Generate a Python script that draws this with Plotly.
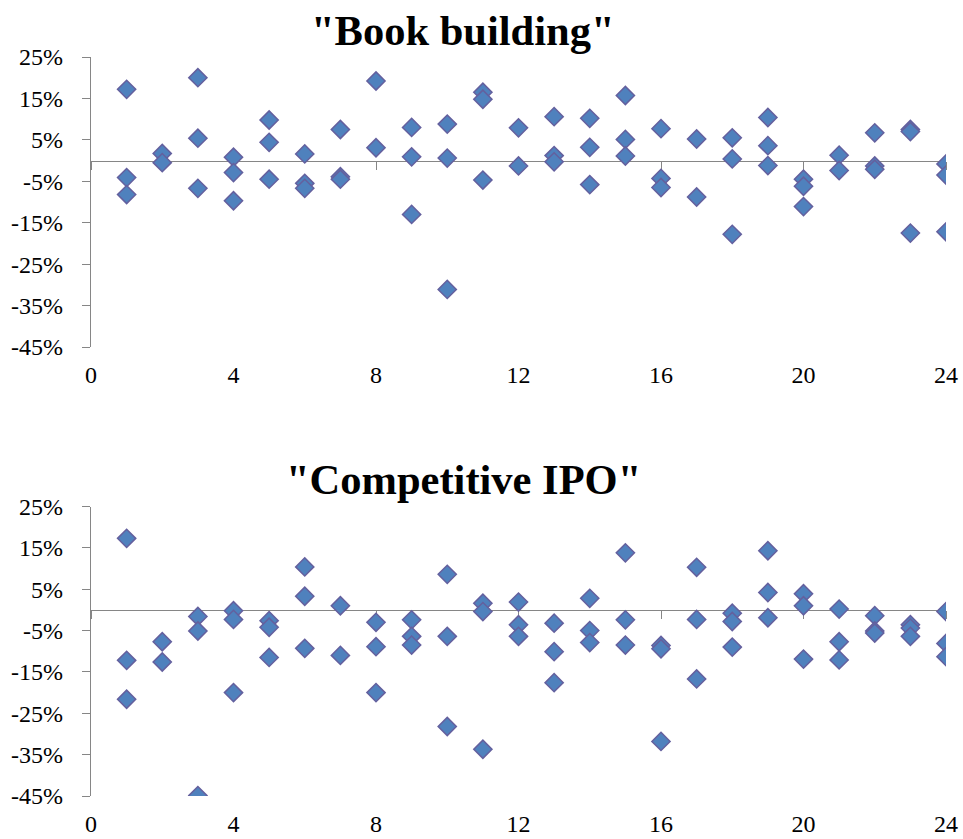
import plotly.graph_objects as go

# ---------------- data ----------------
titles = ['"Book building"', '"Competitive IPO"']

bb_x = [1, 1, 1, 2, 2, 3, 3, 3, 4, 4, 4, 5, 5, 5, 6, 6, 6, 7, 7, 7, 8, 8,
        9, 9, 9, 10, 10, 10, 11, 11, 11, 12, 12, 13, 13, 13, 14, 14, 14,
        15, 15, 15, 16, 16, 16, 17, 17, 18, 18, 18, 19, 19, 19, 20, 20, 20,
        21, 21, 22, 22, 22, 23, 23, 23, 24, 24, 24]
bb_y = [17.2, -4.1, -8.2, 1.7, -0.5, 20.0, 5.4, -6.7, 0.8, -2.9, -9.7,
        9.8, 4.4, -4.5, 1.6, -5.5, -6.7, 7.5, -3.9, -4.5, 19.2, 3.1,
        8.0, 0.9, -13.0, 8.8, 0.6, -31.1, 16.5, 14.8, -4.7, 7.9, -1.3,
        10.6, 1.2, -0.3, 10.2, 3.2, -5.8, 15.7, 5.1, 1.1, 7.7, -4.3, -6.5,
        5.2, -8.8, 5.5, 0.4, -17.8, 10.4, 3.6, -1.2, -4.5, -6.2, -11.1,
        1.3, -2.4, 6.7, -1.3, -2.1, 7.5, 7.0, -17.5, -0.8, -3.5, -17.2]

ci_x = [1, 1, 1, 2, 2, 3, 3, 3, 4, 4, 4, 5, 5, 5, 6, 6, 6, 7, 7, 8, 8, 8,
        9, 9, 9, 10, 10, 10, 11, 11, 11, 12, 12, 12, 13, 13, 13, 14, 14, 14,
        15, 15, 15, 16, 16, 16, 17, 17, 17, 18, 18, 18, 19, 19, 19,
        20, 20, 20, 21, 21, 21, 22, 22, 22, 23, 23, 23, 24, 24, 24]
ci_y = [17.3, -12.2, -21.6, -7.7, -12.6, -1.6, -5.1, -44.9, -0.2, -2.3, -20.0,
        -2.6, -4.2, -11.5, 10.4, 3.3, -9.3, 1.0, -11.0, -3.0, -8.9, -20.0,
        -2.4, -6.4, -8.5, 8.6, -6.4, -28.2, 1.6, -0.4, -33.7, 1.9, -3.6, -6.4,
        -3.2, -10.1, -17.6, 2.8, -5.0, -7.9, 13.8, -2.4, -8.5, -8.6, -9.4, -31.8,
        10.3, -2.3, -16.7, -0.8, -2.8, -9.0, 14.3, 4.2, -1.9,
        3.9, 1.0, -11.9, 0.2, -7.7, -12.1, -1.4, -5.1, -5.6, -3.6, -4.4, -6.4,
        -0.4, -8.1, -11.3]

y_tickvals = [-45, -35, -25, -15, -5, 5, 15, 25]
y_ticktext = ["-45%", "-35%", "-25%", "-15%", "-5%", "5%", "15%", "25%"]
x_tickvals = [0, 4, 8, 12, 16, 20, 24]

# ---------------- style ----------------
W, H = 963, 839
FONT = "Liberation Serif"
GREY = "#868686"
FILL = "#4F81BD"
EDGE = "#64609E"
YMIN, YMAX = -45, 25
XMIN, XMAX = 0, 24
xdom = [91 / W, 946 / W]
ydoms = [[1 - 347 / H, 1 - 57 / H], [1 - 796 / H, 1 - 506.5 / H]]
title_y = [1 - 31 / H, 1 - 479.5 / H]

fig = go.Figure()
layout = dict(
    width=W, height=H, margin=dict(l=0, r=0, t=0, b=0),
    paper_bgcolor="white", plot_bgcolor="white", showlegend=False,
    font=dict(family=FONT, size=24, color="black"),
)

annotations = []
for i, (xs, ys) in enumerate([(bb_x, bb_y), (ci_x, ci_y)]):
    n = i + 1
    sx = "" if n == 1 else str(n)
    lab_id = 2 + n  # 3, 4 : bottom label-only axes
    fig.add_trace(go.Scatter(
        x=xs, y=ys, mode="markers",
        marker=dict(symbol="diamond", size=14, color=FILL,
                    line=dict(color=EDGE, width=1.5)),
        xaxis="x" + sx, yaxis="y" + sx, hoverinfo="x+y"))
    # invisible trace so that the label axis gets drawn
    fig.add_trace(go.Scatter(
        x=[None], y=[None], mode="markers", xaxis="x%d" % lab_id,
        yaxis="y" + sx, hoverinfo="skip", showlegend=False))
    d = ydoms[i]
    zero_pos = d[0] + (0 - YMIN) / (YMAX - YMIN) * (d[1] - d[0])
    # main x axis: line + ticks crossing at y = 0
    layout["xaxis" + sx] = dict(
        domain=xdom, anchor="free", position=zero_pos, range=[XMIN, XMAX],
        tickmode="array", tickvals=x_tickvals, showticklabels=False,
        showline=True, linecolor=GREY, linewidth=1.3, layer="below traces",
        ticks="outside", ticklen=8, tickcolor=GREY, tickwidth=1.3,
        showgrid=False, zeroline=False, automargin=False)
    # label axis at the bottom of the plot area
    layout["xaxis%d" % lab_id] = dict(
        domain=xdom, overlaying="x" + sx, anchor="y" + sx, range=[XMIN, XMAX],
        tickmode="array", tickvals=x_tickvals, showline=False, ticks="",
        showgrid=False, zeroline=False, automargin=False,
        ticklabelstandoff=11, tickfont=dict(family=FONT, size=24))
    layout["yaxis" + sx] = dict(
        domain=d, anchor="x" + sx, range=[YMIN, YMAX],
        tickmode="array", tickvals=y_tickvals, ticktext=y_ticktext,
        showline=True, linecolor=GREY, linewidth=1.3, layer="below traces",
        ticks="outside", ticklen=8, tickcolor=GREY, tickwidth=1.3,
        showgrid=False, zeroline=False, automargin=False,
        ticklabelstandoff=14, tickfont=dict(family=FONT, size=24))
    annotations.append(dict(
        text="<b>%s</b>" % titles[i], x=463 / W, y=title_y[i],
        xref="paper", yref="paper", xanchor="center", yanchor="middle",
        showarrow=False, font=dict(family=FONT, size=42.5, color="black")))

layout["annotations"] = annotations
fig.update_layout(**layout)
fig.write_html("out.html", config={"displayModeBar": False},
               post_script="document.body.style.margin='0px';"
                           "document.body.style.overflow='hidden';")
